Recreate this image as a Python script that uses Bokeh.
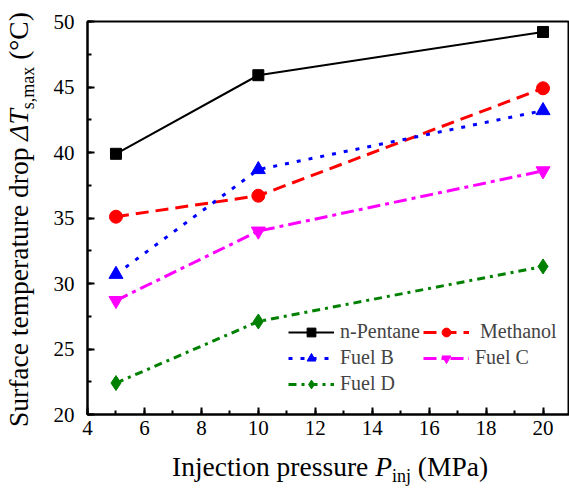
from bokeh.plotting import figure
from bokeh.embed import file_html
from bokeh.resources import INLINE
from bokeh.models import SingleIntervalTicker, Legend, LegendItem, Div
from bokeh.layouts import row, column

# ---- data ----
pressure = [5, 10, 20]
n_pentane = [39.9, 45.9, 49.2]
methanol = [35.1, 36.7, 44.9]
fuel_b = [30.7, 38.7, 43.2]
fuel_c = [28.7, 34.0, 38.6]
fuel_d = [22.4, 27.1, 31.3]
series_names = ["n-Pentane", " Methanol", "Fuel B", "Fuel C", "Fuel D"]
x_ticks_interval = 2
y_ticks_interval = 5

FONT = "Liberation Serif"

p = figure(width=529, height=445, x_range=(4, 20.93), y_range=(20, 50),
           output_backend="svg", toolbar_location=None,
           min_border_left=47, min_border_right=0, min_border_top=21,
           min_border_bottom=31, margin=0)
p.xgrid.visible = False
p.ygrid.visible = False
p.outline_line_color = "black"
p.outline_line_width = 2
p.background_fill_color = "white"
p.border_fill_color = "white"

for ax in (p.xaxis[0], p.yaxis[0]):
    ax.axis_line_width = 2
    ax.axis_line_color = "black"
    ax.major_tick_in = 7
    ax.major_tick_out = 0
    ax.minor_tick_in = 4
    ax.minor_tick_out = 0
    ax.major_tick_line_width = 2
    ax.minor_tick_line_width = 2
    ax.major_label_text_font = FONT
    ax.major_label_text_font_size = "21px"
    ax.major_label_text_color = "black"
    ax.axis_label = None

p.xaxis.ticker = SingleIntervalTicker(interval=x_ticks_interval, num_minor_ticks=2)
p.yaxis.ticker = SingleIntervalTicker(interval=y_ticks_interval, num_minor_ticks=2)
p.xaxis.major_label_standoff = 6
p.yaxis.major_label_standoff = 13

styles = [
    (n_pentane, "black", "solid", 2, "square", 11),
    (methanol, "#FF0000", "13 7", 3, "circle", 13),
    (fuel_b, "#0000FF", "4 8", 3, "triangle", 14),
    (fuel_c, "#FF00FF", "13 5 4 5", 3, "inverted_triangle", 14),
    (fuel_d, "#008000", "8 5 3 5", 3, "diamond", 15),
]
renderers = []
for vals, col, dash, lw, mk, sz in styles:
    l = p.line(pressure, vals, line_color=col, line_dash=dash, line_width=lw)
    m = p.scatter(pressure, vals, marker=mk, size=sz, fill_color=col, line_color=col)
    renderers.append([l, m])

order = [0, 2, 4, 1, 3]
items = [LegendItem(label=series_names[i], renderers=renderers[i]) for i in order]
legend = Legend(items=items, location=(201, 19), orientation="vertical", nrows=3,
                label_text_font=FONT, label_text_font_size="20px",
                glyph_width=46, glyph_height=22, label_standoff=6, spacing=3,
                padding=0, margin=0, border_line_color=None,
                background_fill_alpha=0, label_height=20)
p.add_layout(legend, "center")

# ---- axis titles as real HTML text (with italics and subscripts) ----
TXT = "font-family:'Liberation Serif','Times New Roman',serif; font-size:27.5px; color:black; line-height:1; white-space:nowrap;"
SUBS = "font-size:18px; vertical-align:-6px; line-height:0;"

ylabel_html = (f"<div style=\"{TXT} transform:rotate(-90deg); transform-origin:0 0; "
               f"margin-top:427px; margin-left:5px; width:max-content;\">"
               f"Surface temperature drop <i>&Delta;T</i><span style=\"{SUBS}\">s,max</span> (&deg;C)</div>")
xlabel_html = (f"<div style=\"{TXT} margin-top:8px; margin-left:132px; width:max-content;\">"
               f"Injection pressure <i>P</i><span style=\"{SUBS}\">inj</span> (MPa)</div>")

ydiv = Div(text=ylabel_html, width=40, height=489, margin=0,
           styles={"overflow": "hidden", "background-color": "white"})
xdiv = Div(text=xlabel_html, width=529, height=44, margin=0,
           styles={"overflow": "hidden", "background-color": "white"})

layout = row(ydiv, column(p, xdiv, spacing=0), spacing=0)

open("out.html", "w").write(file_html(layout, INLINE))
